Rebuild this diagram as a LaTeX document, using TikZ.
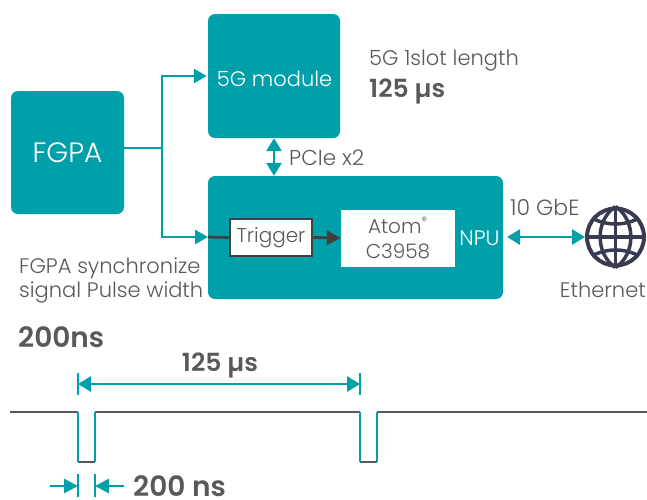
\documentclass[tikz,border=0pt]{standalone}
\usepackage{fontspec}
\setmainfont{Poppins Light}[BoldFont=Poppins SemiBold]
\usetikzlibrary{arrows.meta}
\definecolor{tealblock}{RGB}{0,160,170}
\definecolor{darkgrey}{RGB}{64,64,64}
\definecolor{textgrey}{RGB}{89,89,89}
\tikzset{
block/.style={fill=tealblock, rounded corners=7pt, inner sep=0pt, text=white},
label/.style={text=textgrey, inner sep=0pt, font=\fontsize{21}{25}\selectfont},
bold/.style={text=textgrey, inner sep=0pt, font=\fontsize{25}{29}\selectfont\bfseries},
tealline/.style={tealblock, line width=2.8pt},
tealarrow/.style={tealline, -{Triangle[length=13pt,width=14pt]}},
tealboth/.style={tealline, {Triangle[length=13pt,width=15pt]}-{Triangle[length=13pt,width=15pt]}},
wave/.style={line width=2.4pt, textgrey},
}
\begin{document}
\begin{tikzpicture}[x=1pt,y=-1pt]
\useasboundingbox (0,0) rectangle (647,499);
% blocks
\node [block, minimum width=113pt, minimum height=123pt, font=\fontsize{28}{32}\selectfont] (fgpa) at (67.5,152.5) {FGPA};
\node [block, minimum width=132pt, minimum height=124pt, font=\fontsize{21}{25}\selectfont] (module) at (274,76) {};
\node [text=white, inner sep=0pt, font=\fontsize{21}{25}\selectfont] (modulelabel) at (274.5,79) {5G module};
\node [block, minimum width=295pt, minimum height=123pt] (npu) at (355.5,237.5) {};
\node [draw=darkgrey, line width=2.8pt, fill=white, text=textgrey, minimum width=82pt, minimum height=37pt, inner sep=0pt, font=\fontsize{20}{24}\selectfont] (trigger) at (271,237.5) {Trigger};
\node [fill=white, text=textgrey, minimum width=114pt, minimum height=57pt, inner sep=0pt, align=center, font=\fontsize{20}{25}\selectfont] (atom) at (398,238) {Atom\textsuperscript{\fontsize{12}{12}\selectfont ®}\\C3958};
\node [text=white, inner sep=0pt, font=\fontsize{21}{25}\selectfont] (npulabel) at (479.5,238) {NPU};
% labels
\node [label, anchor=west] (slot) at (369,61) {5G 1slot length};
\node [bold, anchor=west] (slotval) at (369,91) {125 µs};
\node [label, anchor=west, font=\fontsize{21.5}{25}\selectfont] (pcie) at (289,158) {PCIe x2};
\node [label, anchor=west, font=\fontsize{22}{26}\selectfont] (gbe) at (510,207) {10 GbE};
\node [label, anchor=east] (eth) at (646,290) {Ethernet};
\node [label, anchor=west] (sync) at (19,268) {FGPA synchronize};
\node [label, anchor=west] (pulse) at (19,292) {signal Pulse width};
\node [bold, anchor=west, font=\fontsize{28}{32}\selectfont\bfseries] (pulseval) at (18,337) {200ns};
\node [bold] (period) at (220,365) {125 µs};
\node [bold, anchor=west, font=\fontsize{28}{32}\selectfont\bfseries] (width) at (133,486) {200 ns};
% globe
\node [circle, draw=darkgrey!90!blue, line width=4pt, minimum size=57pt, inner sep=0pt] (globe) at (615.5,237) {};
\begin{scope}[darkgrey!90!blue, line width=3.5pt]
\draw (globe.north) .. controls (595,220) and (595,254) .. (globe.south);
\draw (globe.north) .. controls (636,220) and (636,254) .. (globe.south);
\draw (globe.north) -- (globe.south);
\draw (globe.west) -- (globe.east);
\draw (592,218) .. controls (606,226) and (625,226) .. (639,218);
\draw (592,256) .. controls (606,248) and (625,248) .. (639,256);
\end{scope}
% connectors
\coordinate (branch) at (162,148);
\coordinate (top) at (162,76);
\coordinate (low) at (162,237);
\coordinate (entry) at (208,237);
\draw [tealline] (fgpa.east |- branch) -- (branch);
\draw [tealarrow] (top -| module.west) ++(-1,0) coordinate (tip) (low) -- (branch) -- (top) -- (tip);
\draw [tealarrow] (branch) -- (low) -- (entry);
\draw [darkgrey, line width=2.8pt] (entry) -- (trigger.west);
\draw [darkgrey, line width=2.8pt, -{Triangle[length=14pt,width=14pt]}] (trigger.east) -- (atom.west);
\draw [tealboth] (module.south) -- (npu.north -| module.south);
\coordinate (npuout) at (507,237);
\draw [tealboth] (npuout) -- (globe.west);
% timing
\coordinate (a1) at (78,412);
\coordinate (a2) at (78,462);
\coordinate (a3) at (95,462);
\coordinate (a4) at (95,412);
\coordinate (b1) at (360,412);
\coordinate (b2) at (360,462);
\coordinate (b3) at (377,462);
\coordinate (b4) at (377,412);
\coordinate (wstart) at (10,412);
\coordinate (wend) at (647,412);
\draw [wave] (wstart) -- (a1) (a4) -- (b1) (b4) -- (wend) (a2) -- (a3) (b2) -- (b3);
\draw [tealblock, line width=2.2pt] (a1) -- (a2) (a3) -- (a4) (b1) -- (b2) (b3) -- (b4);
\draw [tealblock, line width=1.8pt] (78,373) coordinate (t1) -- (78,395) (360,373) -- (360,395) coordinate (t2);
\coordinate (d1) at (78,384);
\coordinate (d2) at (360,384);
\draw [tealboth] (d1) -- (d2);
\draw [tealblock, line width=1.8pt] (78,474) -- (78,497) (95,474) -- (95,497);
\coordinate (m1) at (78,486);
\coordinate (m2) at (95,486);
\coordinate (s1) at (50,486);
\coordinate (s2) at (124,486);
\draw [tealline, -{Triangle[length=14pt,width=14pt]}] (s1) -- (m1);
\draw [tealline, -{Triangle[length=14pt,width=14pt]}] (s2) -- (m2);
\end{tikzpicture}
\end{document}
